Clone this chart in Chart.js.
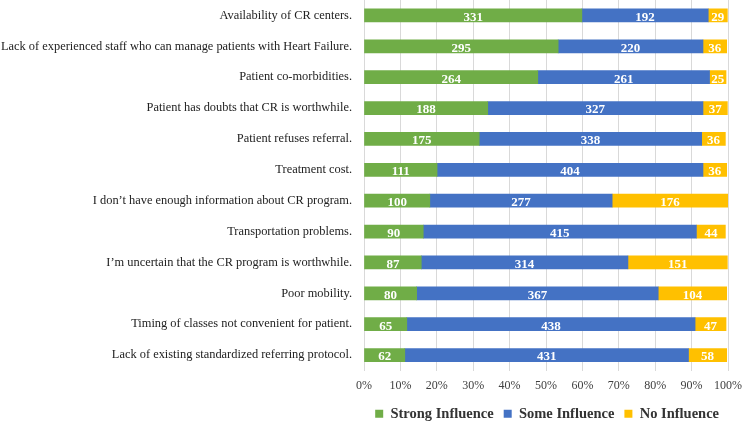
<!DOCTYPE html>
<html>
<head>
<meta charset="utf-8">
<script src="https://cdn.jsdelivr.net/npm/chart.js@4.4.1/dist/chart.umd.min.js"></script>
<style>
  html, body { margin: 0; padding: 0; background: #fff; }
  #wrap { width: 750px; height: 423px; position: relative; }
</style>
</head>
<body>
<div id="wrap"><canvas id="mainChart"></canvas></div>
<script>
// ============ DATA ============

const categories = [
    'Availability of CR centers.',
    'Lack of experienced staff who can manage patients with Heart Failure.',
    'Patient co-morbidities.',
    'Patient has doubts that CR is worthwhile.',
    'Patient refuses referral.',
    'Treatment cost.',
    'I don\u2019t have enough information about CR program.',
    'Transportation problems.',
    'I\u2019m uncertain that the CR program is worthwhile.',
    'Poor mobility.',
    'Timing of classes not convenient for patient.',
    'Lack of existing standardized referring protocol.'
];

const strongInfluence = [331, 295, 264, 188, 175, 111, 100, 90, 87, 80, 65, 62];
const someInfluence   = [192, 220, 261, 327, 338, 404, 277, 415, 314, 367, 438, 431];
const noInfluence     = [29, 36, 25, 37, 36, 36, 176, 44, 151, 104, 47, 58];

// total respondents (bars are shares of this)
const totalN = 553;

const seriesNames = ['Strong Influence', 'Some Influence', 'No Influence'];
const seriesColors = ['#70AD47', '#4472C4', '#FFC000'];

const toPct = arr => arr.map(v => v / totalN * 100);

const serif = '"Liberation Serif", "Times New Roman", serif';

// ============ VALUE LABELS ============

const valueLabels = {
    id: 'valueLabels',
    afterDatasetsDraw(chart) {
        const ctx = chart.ctx;
        ctx.save();
        ctx.font = 'bold 13px ' + serif;
        ctx.fillStyle = '#fff';
        ctx.textAlign = 'center';
        ctx.textBaseline = 'middle';
        chart.data.datasets.forEach((ds, di) => {
            const meta = chart.getDatasetMeta(di);
            meta.data.forEach((el, i) => {
                const cx = (el.x + el.base) / 2;
                ctx.fillText(ds.counts[i], cx, el.y + 2);
            });
        });
        ctx.restore();
    }
};

// ============ CHART ============

const ctx = document.getElementById('mainChart').getContext('2d');

const chart = new Chart(ctx, {
    type: 'bar',
    data: {
        labels: categories,
        datasets: [strongInfluence, someInfluence, noInfluence].map((arr, i) => ({
            label: seriesNames[i],
            data: toPct(arr),
            counts: arr,
            backgroundColor: seriesColors[i],
            borderWidth: 0,
            barThickness: 13
        }))
    },
    options: {
        indexAxis: 'y',
        responsive: true,
        maintainAspectRatio: false,
        animation: false,
        layout: { padding: { top: 0, right: 21, bottom: -8, left: 0 } },
        scales: {
            x: {
                stacked: true,
                min: 0,
                max: 100,
                afterFit: scale => { scale.height = 26; },
                ticks: {
                    stepSize: 10,
                    color: '#404040',
                    padding: 8,
                    font: { family: serif, size: 12 },
                    callback: v => v + '%'
                },
                grid: { color: '#d9d9d9', drawTicks: false },
                border: { display: false }
            },
            y: {
                stacked: true,
                afterFit: scale => {
                    scale.width = 364;
                    scale.paddingTop = 0;
                    scale.paddingBottom = 0;
                },
                ticks: {
                    color: '#222',
                    padding: 12,
                    font: { family: serif, size: 12.4 }
                },
                grid: { display: false, drawTicks: false },
                border: { color: '#d9d9d9' }
            }
        },
        plugins: {
            legend: {
                display: true,
                position: 'bottom',
                align: 'end',
                labels: {
                    boxWidth: 8,
                    boxHeight: 8,
                    padding: 10,
                    color: '#333',
                    font: { family: serif, size: 14.5, weight: 'bold' }
                }
            },
            tooltip: { enabled: false }
        }
    },
    plugins: [valueLabels]
});
</script>
</body>
</html>
